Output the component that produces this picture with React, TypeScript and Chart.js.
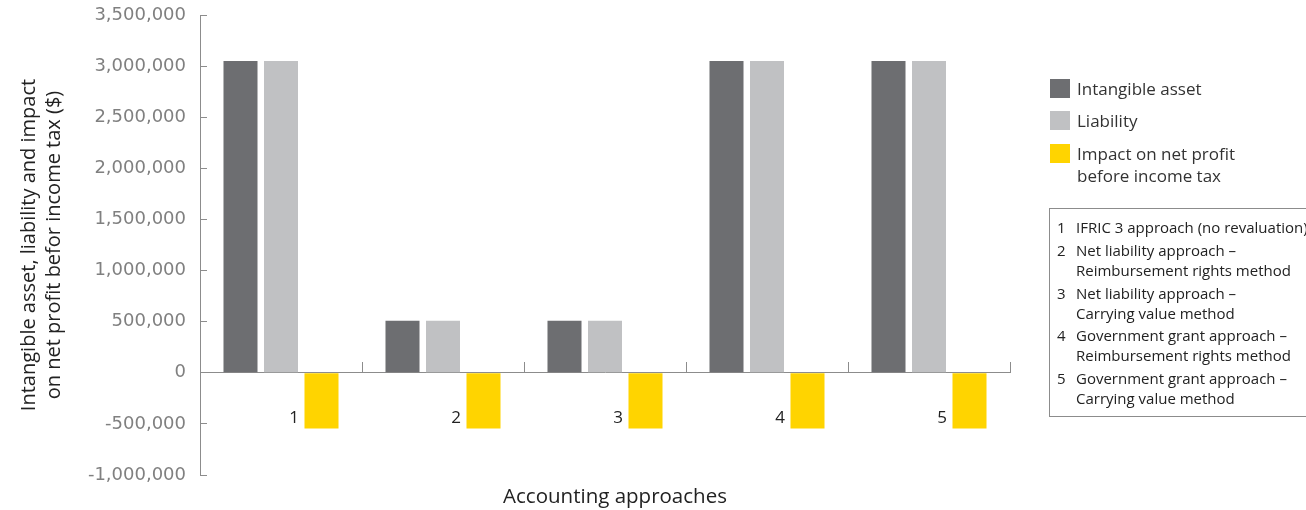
import React, { useEffect, useRef } from 'react';
import { Chart, registerables } from 'chart.js';

Chart.register(...registerables);

const categories = ['1', '2', '3', '4', '5'];
const intangibleAsset = [3050000, 510000, 510000, 3050000, 3050000];
const liability = [3050000, 510000, 510000, 3050000, 3050000];
const impactOnProfit = [-545000, -545000, -545000, -545000, -545000];

const seriesLabels = ['Intangible asset', 'Liability', 'Impact on net profit\nbefore income tax'];
const seriesColors = ['#6d6e71', '#c0c1c3', '#ffd400'];

const yMin = -1000000;
const yMax = 3500000;
const yStep = 500000;

const yTitle = ['Intangible asset, liability and impact', 'on net profit befor income tax ($)'];
const xTitle = 'Accounting approaches';

const noteNumbers = ['1', '2', '3', '4', '5'];
const noteTexts = [
  'IFRIC 3 approach (no revaluation)',
  'Net liability approach –\nReimbursement rights method',
  'Net liability approach –\nCarrying value method',
  'Government grant approach –\nReimbursement rights method',
  'Government grant approach –\nCarrying value method',
];

const TEXT_FONT = '"Open Sans", "Noto Sans", sans-serif';

const xTitlePlugin = {
  id: 'xTitlePlugin',
  afterDraw(chart: any) {
    const { ctx, chartArea } = chart;
    ctx.save();
    ctx.font = `20.5px ${TEXT_FONT}`;
    ctx.fillStyle = '#222';
    ctx.textAlign = 'center';
    ctx.textBaseline = 'middle';
    ctx.fillText(xTitle, (chartArea.left + chartArea.right) / 2 + 10, 497);
    ctx.restore();
  },
};

export default function App() {
  const canvasRef = useRef<HTMLCanvasElement | null>(null);

  useEffect(() => {
    if (!canvasRef.current) return;
    const chart = new Chart(canvasRef.current, {
      type: 'bar',
      data: {
        labels: categories,
        datasets: [
          { label: seriesLabels[0], data: intangibleAsset, backgroundColor: seriesColors[0] },
          { label: seriesLabels[1], data: liability, backgroundColor: seriesColors[1] },
          { label: seriesLabels[2], data: impactOnProfit, backgroundColor: seriesColors[2] },
        ],
      },
      options: {
        animation: false,
        responsive: false,
        devicePixelRatio: 1,
        layout: { padding: { left: 0, top: 0, right: 296, bottom: 0 } },
        datasets: { bar: { categoryPercentage: 0.75, barPercentage: 0.84 } },
        plugins: { legend: { display: false }, tooltip: { enabled: false } },
        scales: {
          x: {
            position: { y: 0 } as any,
            afterFit: (scale: any) => { scale.height = 35; },
            grid: { offset: true, drawOnChartArea: false, drawTicks: true, tickLength: -11, color: '#8c8c8c', lineWidth: 1 },
            border: { display: true, color: '#8c8c8c', width: 1 },
            ticks: {
              labelOffset: 13,
              padding: 46,
              color: '#222',
              font: { family: TEXT_FONT, size: 17 },
              maxRotation: 0,
            },
          },
          y: {
            min: yMin,
            max: yMax,
            afterFit: (scale: any) => {
              scale.width = 200;
              scale.paddingTop = 15;
              scale.paddingBottom = 35;
            },
            grid: { drawOnChartArea: false, drawTicks: true, tickLength: -7, color: '#8c8c8c', lineWidth: 1 },
            border: { display: true, color: '#8c8c8c', width: 1 },
            ticks: {
              stepSize: yStep,
              padding: 21,
              color: '#808080',
              font: { family: '"DejaVu Sans", Verdana, sans-serif', size: 18 },
              callback: (v: any) => Number(v).toLocaleString('en-US'),
            },
            title: {
              display: true,
              text: yTitle,
              color: '#222',
              font: { family: TEXT_FONT, size: 20, lineHeight: 25 / 20 },
              padding: { top: 17, bottom: 0 },
            },
          },
        },
      },
      plugins: [xTitlePlugin],
    });
    return () => chart.destroy();
  }, []);

  return (
    <div style={{ position: 'fixed', left: 0, top: 0, width: 1306, height: 510, overflow: 'hidden', background: '#fff' }}>
      <canvas ref={canvasRef} width={1306} height={510} style={{ position: 'absolute', left: 0, top: 0 }} />
      {seriesLabels.map((label, i) => (
        <div key={label} style={{ position: 'absolute', left: 1050, top: [79, 111, 144][i], fontFamily: TEXT_FONT, fontSize: 17, color: '#333', lineHeight: '22px' }}>
          <div style={{ position: 'absolute', left: 0, top: 0, width: 20, height: 19, background: seriesColors[i] }} />
          <div style={{ position: 'absolute', left: 27, top: -1, whiteSpace: 'pre' }}>{label}</div>
        </div>
      ))}
      <div style={{ position: 'absolute', left: 1049, top: 208, width: 300, height: 209, border: '1px solid #8c8c8c', boxSizing: 'border-box' }} />
      <div style={{ position: 'absolute', left: 1057, top: 217, fontFamily: TEXT_FONT, fontSize: 15, color: '#222', lineHeight: '20px' }}>
        {noteTexts.map((t, i) => (
          <div key={i} style={{ display: 'flex', marginBottom: 2.8 }}>
            <span style={{ width: 19, flex: 'none' }}>{noteNumbers[i]}</span>
            <span style={{ whiteSpace: 'pre' }}>{t}</span>
          </div>
        ))}
      </div>
    </div>
  );
}
